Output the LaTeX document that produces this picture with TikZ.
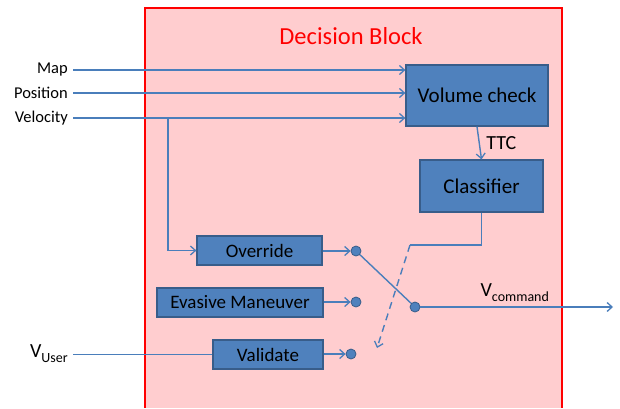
\documentclass[tikz,border=0pt]{standalone}
\usepackage{fontspec}
\setmainfont{Carlito}
\usetikzlibrary{arrows.meta,positioning}

\definecolor{blockblue}{HTML}{4F81BD}
\definecolor{blockedge}{HTML}{385D8A}
\definecolor{wireblue}{HTML}{4A7EBB}
\definecolor{zonepink}{HTML}{FFCDCF}

\tikzstyle{block}  = [rectangle, draw=blockedge, line width=1.2pt, fill=blockblue, inner sep=0pt, text centered]
\tikzstyle{pin}    = [circle, draw=blockedge, fill=blockblue, line width=0.8pt, minimum size=10pt, inner sep=0pt]
\tikzstyle{wire}   = [draw=wireblue, line width=1.4pt]
\tikzstyle{arrow}  = [wire, -{Straight Barb[length=5pt,width=9pt,line width=1.3pt]}]
\tikzstyle{inlabel}= [anchor=east, inner sep=0pt, font=\fontsize{16.5}{19}\selectfont]

\begin{document}
\begin{tikzpicture}[x=1pt,y=-1pt]
    \useasboundingbox (0,0) rectangle (620,408);

    % decision block
    \fill[zonepink] (145,8) rectangle (562,408);
    \draw[red, line width=2pt] (145,408) -- (145,8) -- (562,8) -- (562,408);
    \node[red, font=\fontsize{24.5}{28}\selectfont] (title) at (351,36) {Decision Block};

    % blocks
    \node[block, minimum width=142pt, minimum height=61pt, font=\fontsize{21}{24}\selectfont] (volcheck) at (477,95.5) {Volume check};
    \node[block, minimum width=123pt, minimum height=52pt, font=\fontsize{21}{24}\selectfont] (classifier) at (481.5,186) {Classifier};
    \node[block, minimum width=125pt, minimum height=29pt, font=\fontsize{19}{22}\selectfont] (override) at (259.5,250.5) {Override};
    \node[block, minimum width=166pt, minimum height=29pt, font=\fontsize{19}{22}\selectfont] (evasive) at (240,302.5) {Evasive Maneuver};
    \node[block, minimum width=110pt, minimum height=29pt, font=\fontsize{19}{22}\selectfont] (validate) at (268,354.5) {Validate};

    % switch
    \node[pin] (sw1) at (356,251) {};
    \node[pin] (sw2) at (356,302) {};
    \node[pin] (sw3) at (351,354) {};
    \node[pin] (swout) at (415,307) {};

    % inputs
    \node[inlabel] (map) at (68,70) {Map};
    \node[inlabel] (pos) at (68,93) {Position};
    \node[inlabel] (vel) at (68,118) {Velocity};
    \node[inlabel, font=\fontsize{20}{24}\selectfont] (vuser) at (68,354) {V\raisebox{-5pt}{\fontsize{14}{16}\selectfont User}};

    \coordinate (branch) at (168,118);
    \coordinate (bend) at (410,245);
    \coordinate (tip) at (377,348);
    \coordinate (vout) at (613,307);

    % connections
    \draw[arrow] ([xshift=5pt]map.east) -- (map.east -| volcheck.west);
    \draw[arrow] ([xshift=5pt]pos.east) -- (pos.east -| volcheck.west);
    \draw[arrow] ([xshift=5pt]vel.east) -- (vel.east -| volcheck.west);
    \draw[arrow] (branch) |- (override.west);
    \draw[wire] ([xshift=5pt]vuser.east |- validate.west) -- (validate.west);

    \draw[arrow] (volcheck.south) -- (classifier.north) node[midway, right=3pt, font=\fontsize{20}{24}\selectfont] (ttc) {TTC};
    \draw[wire] (classifier.south) |- (bend);
    \draw[arrow, dashed, dash pattern=on 7pt off 5pt] (bend) -- (tip);

    \draw[arrow] (override.east |- sw1) -- (sw1);
    \draw[arrow] (evasive.east |- sw2) -- (sw2);
    \draw[arrow] (validate.east |- sw3) -- (sw3);
    \draw[wire] (sw1) -- (swout);
    \draw[arrow] (swout) -- (vout) node[pos=0.49, above=1pt, font=\fontsize{20}{24}\selectfont] (vcmd) {V\raisebox{-5pt}{\fontsize{14}{16}\selectfont command}};
\end{tikzpicture}
\end{document}
